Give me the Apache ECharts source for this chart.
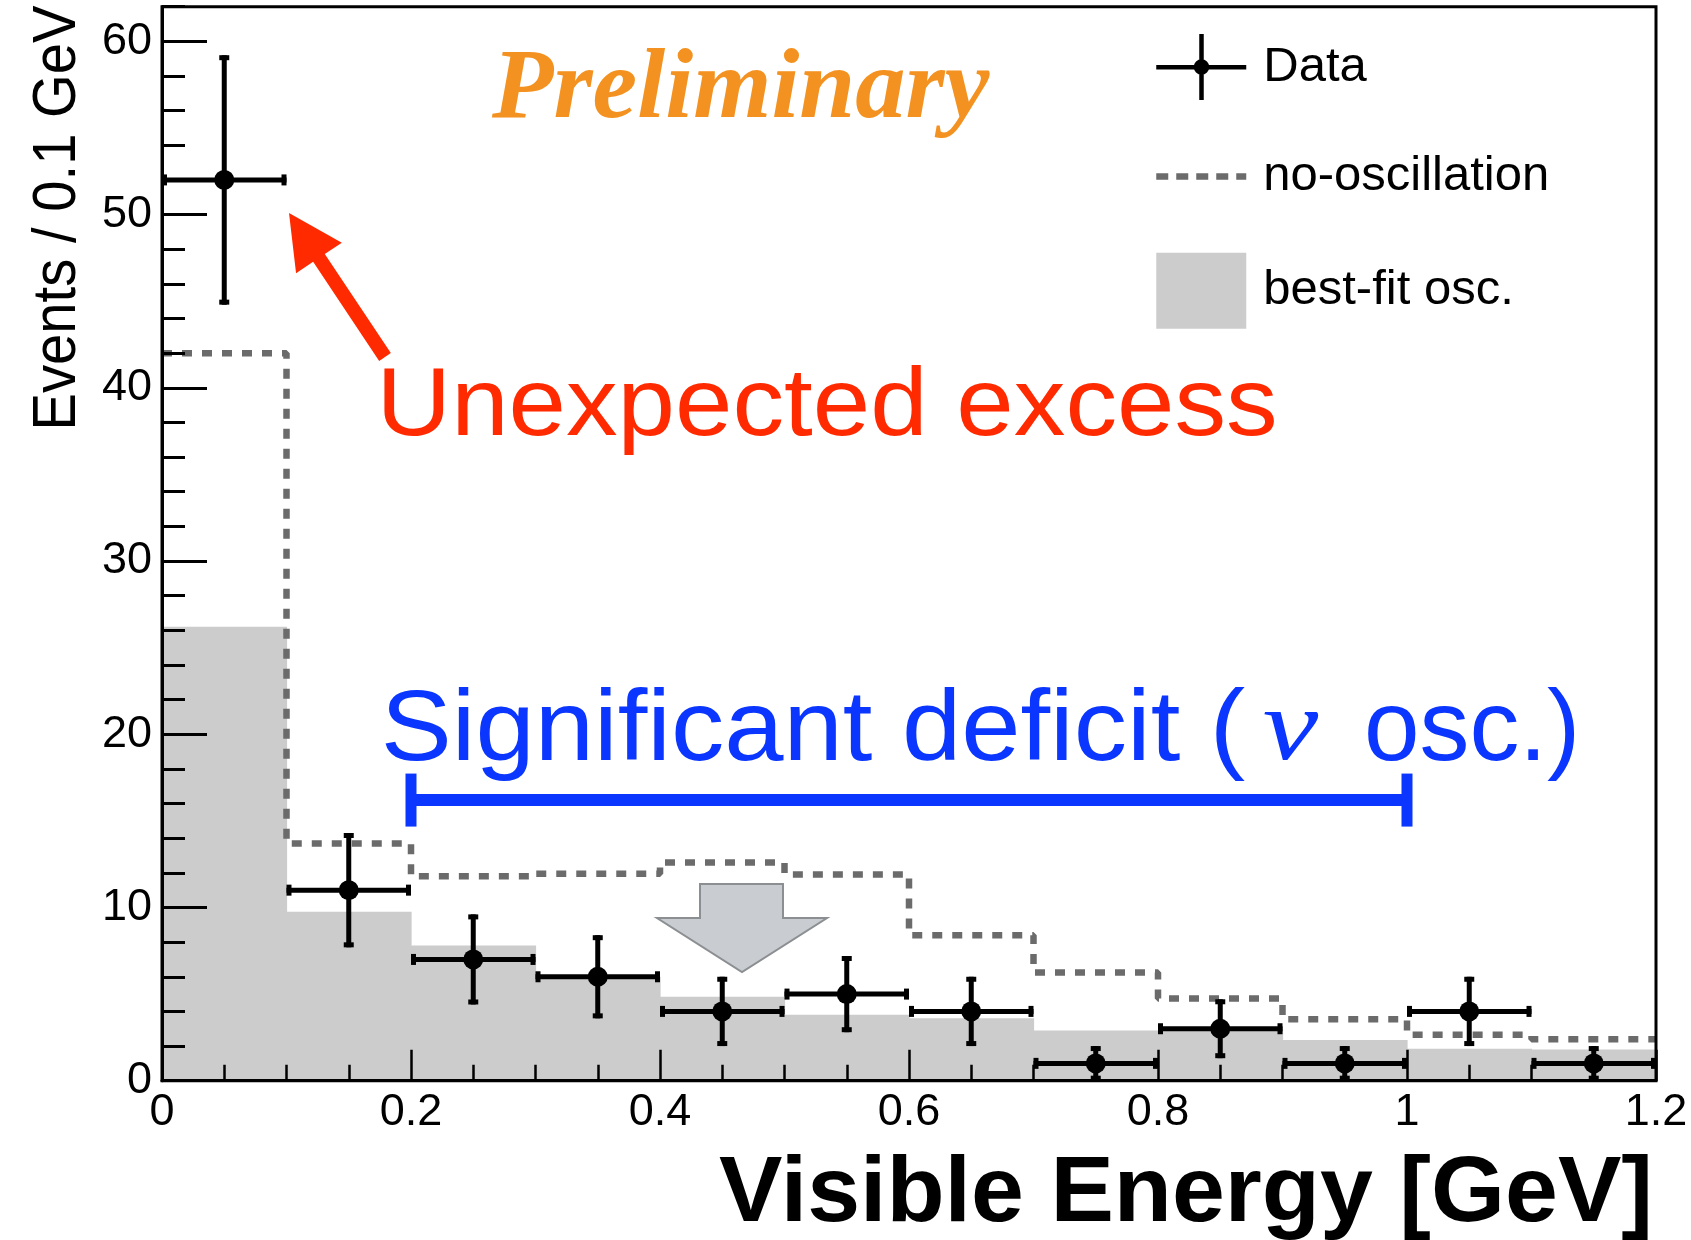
<!DOCTYPE html>
<html>
<head>
<meta charset="utf-8">
<script src="https://cdn.jsdelivr.net/npm/echarts@6/dist/echarts.min.js"></script>
<style>
html,body{margin:0;padding:0;background:#fff;}
#c{width:1691px;height:1240px;}
</style>
</head>
<body>
<div id="c"></div>
<script>
// ---- data ----
const binEdges      = [0, 0.1, 0.2, 0.3, 0.4, 0.5, 0.6, 0.7, 0.8, 0.9, 1.0, 1.1, 1.2];
const dataCounts    = [52, 11, 7, 6, 4, 5, 4, 1, 3, 1, 4, 1];
const dataErrLow    = [44.8, 7.7, 4.4, 3.6, 2.0, 2.8, 2.0, 0.0, 1.3, 0.0, 2.0, 0.0];
const dataErrHigh   = [59.2, 14.3, 9.6, 8.4, 6.0, 7.2, 6.0, 2.0, 4.7, 2.0, 6.0, 2.0];
const noOscillation = [42.0, 13.7, 11.8, 11.95, 12.6, 11.9, 8.4, 6.25, 4.75, 3.55, 2.65, 2.4];
const bestFitOsc    = [26.2, 9.75, 7.8, 6.0, 4.85, 3.8, 3.6, 2.9, 2.95, 2.35, 1.85, 1.8];
const seriesNames   = ['Data', 'no-oscillation', 'best-fit osc.'];
const deficitRange  = [0.2, 1.0];
const deficitLevel  = 16.2;

const chart = echarts.init(document.getElementById('c'), null, {renderer: 'canvas', width: 1691, height: 1240});

const SANS = '"Liberation Sans"';
const SERIF = '"Liberation Serif"';

function renderBins(params, api) {
  const p0 = api.coord([api.value(0), api.value(2)]);
  const p1 = api.coord([api.value(1), 0]);
  return {
    type: 'rect',
    shape: {x: p0[0], y: p0[1], width: p1[0] - p0[0] + 0.6, height: p1[1] - p0[1]},
    style: {fill: '#cccccc'}
  };
}

function renderData(params, api) {
  const xc = api.value(0), n = api.value(1), lo = api.value(2), hi = api.value(3);
  const x0 = api.value(4), x1 = api.value(5);
  const c = api.coord([xc, n]);
  const l = api.coord([x0, n]);
  const r = api.coord([x1, n]);
  const b = api.coord([xc, lo]);
  const t = api.coord([xc, hi]);
  const st = {stroke: '#000', lineWidth: 5};
  const capV = 5.5, capH = 5;
  return {
    type: 'group',
    children: [
      {type: 'line', shape: {x1: l[0], y1: l[1], x2: r[0], y2: r[1]}, style: st},
      {type: 'line', shape: {x1: b[0], y1: b[1], x2: t[0], y2: t[1]}, style: st},
      {type: 'line', shape: {x1: l[0] + 2.5, y1: l[1] - capV, x2: l[0] + 2.5, y2: l[1] + capV}, style: st},
      {type: 'line', shape: {x1: r[0] - 2.5, y1: r[1] - capV, x2: r[0] - 2.5, y2: r[1] + capV}, style: st},
      {type: 'line', shape: {x1: b[0] - capH, y1: b[1] - 2.5, x2: b[0] + capH, y2: b[1] - 2.5}, style: st},
      {type: 'line', shape: {x1: t[0] - capH, y1: t[1] + 2.5, x2: t[0] + capH, y2: t[1] + 2.5}, style: st},
      {type: 'circle', shape: {cx: c[0], cy: c[1], r: 10}, style: {fill: '#000'}}
    ]
  };
}

const dataIcon = 'path://M0,36L90,36L90,40.5L0,40.5Z M43,5L47.5,5L47.5,71L43,71Z M37.5,38A7.75,7.75,0,1,1,53,38A7.75,7.75,0,1,1,37.5,38Z';

const axisBlack = {color: '#000', width: 3};

const option = {
  animation: false,
  backgroundColor: '#ffffff',
  grid: {
    left: 162, top: 6.7, right: 35, bottom: 159.3,
    show: true, borderColor: '#000', borderWidth: 3, backgroundColor: 'transparent',
    z: 5, containLabel: false, outerBoundsMode: 'none'
  },
  legend: {
    orient: 'vertical', left: 1153, top: 34, padding: 0,
    itemWidth: 90, itemHeight: 76, itemGap: 46,
    selectedMode: false,
    itemStyle: {borderWidth: 0},
    textStyle: {fontSize: 49, fontFamily: SANS, color: '#000', padding: [0, 0, 0, 12]},
    data: [
      {name: seriesNames[0], icon: dataIcon},
      {name: seriesNames[1],
       lineStyle: {width: 6.5, color: '#6b6b6b', type: [12, 8]},
       itemStyle: {color: 'rgba(0,0,0,0)', borderColor: 'rgba(0,0,0,0)', borderWidth: 0}},
      {name: seriesNames[2], icon: 'rect'}
    ]
  },
  xAxis: {
    type: 'value', min: 0, max: 1.2, interval: 0.2, z: 5,
    axisLine: {show: true, onZero: false, lineStyle: axisBlack},
    axisTick: {show: true, inside: true, length: 31, lineStyle: {color: '#000', width: 2.5}},
    minorTick: {show: true, splitNumber: 4, length: 16, lineStyle: {color: '#000', width: 2.5}},
    splitLine: {show: false},
    minorSplitLine: {show: false},
    axisLabel: {
      fontSize: 45, fontFamily: SANS, color: '#000', margin: 9,
      formatter: v => String(+(+v).toFixed(2))
    }
  },
  yAxis: [
    {
      type: 'value', position: 'left', min: 0, max: 62, interval: 2, z: 5,
      axisLine: {show: true, onZero: false, lineStyle: axisBlack},
      axisTick: {show: true, inside: true, length: 23, lineStyle: axisBlack},
      axisLabel: {show: false},
      splitLine: {show: false}
    },
    {
      type: 'value', position: 'left', min: 0, max: 62, interval: 10, z: 5,
      axisLine: {show: false},
      axisTick: {show: true, inside: true, length: 45, lineStyle: axisBlack},
      axisLabel: {
        show: true, showMaxLabel: false, fontSize: 45, fontFamily: SANS, color: '#000', margin: 10,
        formatter: v => String(Math.round(v))
      },
      splitLine: {show: false}
    }
  ],
  series: [
    {
      name: seriesNames[2], type: 'custom', z: 1,
      renderItem: renderBins,
      itemStyle: {color: '#cccccc'},
      encode: {x: [0, 1], y: 2},
      data: bestFitOsc.map((v, i) => [binEdges[i], binEdges[i + 1], v])
    },
    {
      name: seriesNames[1], type: 'line', z: 2,
      step: 'end', symbol: 'none', showSymbol: false,
      itemStyle: {color: '#6b6b6b'},
      lineStyle: {color: '#6b6b6b', width: 6.5, type: [10, 10]},
      data: binEdges.map((e, i) => [e, noOscillation[Math.min(i, noOscillation.length - 1)]])
    },
    {
      name: seriesNames[0], type: 'custom', z: 3,
      renderItem: renderData,
      itemStyle: {color: '#000'},
      encode: {x: [0, 4, 5], y: [1, 2, 3]},
      data: dataCounts.map((n, i) => [
        (binEdges[i] + binEdges[i + 1]) / 2, n, dataErrLow[i], dataErrHigh[i], binEdges[i], binEdges[i + 1]
      ])
    }
  ]
};

chart.setOption(option);

// ---- annotations ----
const mc = document.createElement('canvas').getContext('2d');
function fstr(f, size) {
  return (f.style || 'normal') + ' ' + (f.weight || 'normal') + ' ' + size + 'px ' + f.family;
}
function meas(t, f, size) {
  mc.font = fstr(f, size);
  mc.textBaseline = 'middle';
  mc.textAlign = 'left';
  return mc.measureText(t);
}
// box: start/end along reading direction (ink), capTop/baseline (or top/bottom with inkFit)
function fitLabel(text, f, box, fill, rotate) {
  let size, yOff, bottomRef;
  if (box.inkFit) {
    const m0 = meas(text, f, 100);
    size = 100 * Math.abs(box.bottom - box.top) / (m0.actualBoundingBoxAscent + m0.actualBoundingBoxDescent);
    yOff = meas(text, f, size).actualBoundingBoxDescent;
    bottomRef = box.bottom;
  } else {
    const h = meas('H', f, 100);
    size = 100 * Math.abs(box.baseline - box.capTop) / (h.actualBoundingBoxAscent + h.actualBoundingBoxDescent);
    yOff = meas('H', f, size).actualBoundingBoxDescent;
    bottomRef = box.baseline;
  }
  const m = meas(text, f, size);
  const inkW = m.actualBoundingBoxLeft + m.actualBoundingBoxRight;
  const s = Math.abs(box.end - box.start) / inkW;
  const el = {
    type: 'text', scaleX: s, z: 10,
    style: {
      text: text, fontSize: size, fontFamily: f.family,
      fontWeight: f.weight || 'normal', fontStyle: f.style || 'normal',
      fill: fill, textAlign: 'left', textVerticalAlign: 'middle'
    }
  };
  if (!rotate) {
    el.x = box.start + m.actualBoundingBoxLeft * s;
    el.y = bottomRef - yOff;
  } else {
    el.rotation = Math.PI / 2;
    el.y = box.start - m.actualBoundingBoxLeft * s;
    el.x = bottomRef - yOff;
  }
  return el;
}

const P = (x, y) => chart.convertToPixel({xAxisIndex: 0, yAxisIndex: 0}, [x, y]);

const RED = '#ff2a00';
const BLUE = '#0a36ff';
const ORANGE = '#f39220';

const elements = [];

// y-axis title (rotated)
elements.push(fitLabel('Events / 0.1 GeV', {family: SANS},
  {start: 426, end: 5, capTop: 33, baseline: 75}, '#000', true));
// x-axis title
elements.push(fitLabel('Visible Energy [GeV]', {family: SANS, weight: 'bold'},
  {start: 719, end: 1648, capTop: 1156, baseline: 1221}, '#000'));
// Preliminary
elements.push(fitLabel('Preliminary', {family: SERIF, weight: 'bold', style: 'italic'},
  {start: 491, end: 990, capTop: 52, baseline: 118}, ORANGE));
// Unexpected excess
elements.push(fitLabel('Unexpected excess', {family: SANS},
  {start: 384, end: 1275, capTop: 368, baseline: 435}, RED));
// Significant deficit (ν osc.)
elements.push(fitLabel('Significant deficit (', {family: SANS},
  {start: 385, end: 1245, capTop: 691, baseline: 760}, BLUE));
elements.push(fitLabel('\u03bd', {family: SERIF, style: 'italic'},
  {start: 1264, end: 1319, top: 712, bottom: 760, inkFit: true}, BLUE));
elements.push(fitLabel('osc.)', {family: SANS},
  {start: 1368, end: 1575, capTop: 691, baseline: 760}, BLUE));

// red arrow pointing at the excess
(function () {
  const tip = [289, 213], tail = [385, 357];
  const headLen = 54, headHalf = 27.5, shaftHalf = 7;
  const dx = tail[0] - tip[0], dy = tail[1] - tip[1];
  const L = Math.hypot(dx, dy);
  const u = [dx / L, dy / L], nrm = [-u[1], u[0]];
  const base = [tip[0] + u[0] * headLen, tip[1] + u[1] * headLen];
  const pt = (p, k) => [p[0] + nrm[0] * k, p[1] + nrm[1] * k];
  elements.push({
    type: 'polygon', z: 10,
    shape: {points: [tip, pt(base, -headHalf), pt(base, -shaftHalf), pt(tail, -shaftHalf),
                     pt(tail, shaftHalf), pt(base, shaftHalf), pt(base, headHalf)]},
    style: {fill: RED}
  });
})();

// blue range bar for the deficit
(function () {
  const a = P(deficitRange[0], deficitLevel);
  const b = P(deficitRange[1], deficitLevel);
  elements.push({type: 'line', z: 10, shape: {x1: a[0], y1: a[1], x2: b[0], y2: b[1]},
                 style: {stroke: BLUE, lineWidth: 12}});
  [a, b].forEach(p => elements.push({
    type: 'rect', z: 10, shape: {x: p[0] - 5.5, y: p[1] - 26.5, width: 11, height: 53},
    style: {fill: BLUE}
  }));
})();

// gray down arrow
elements.push({
  type: 'polygon', z: 10,
  shape: {points: [[700, 884], [783, 884], [783, 918], [827, 918], [742, 972], [657, 918], [700, 918]]},
  style: {fill: '#c9cdd1', stroke: '#8c8f92', lineWidth: 2}
});

chart.setOption({graphic: {elements: elements}});
</script>
</body>
</html>
